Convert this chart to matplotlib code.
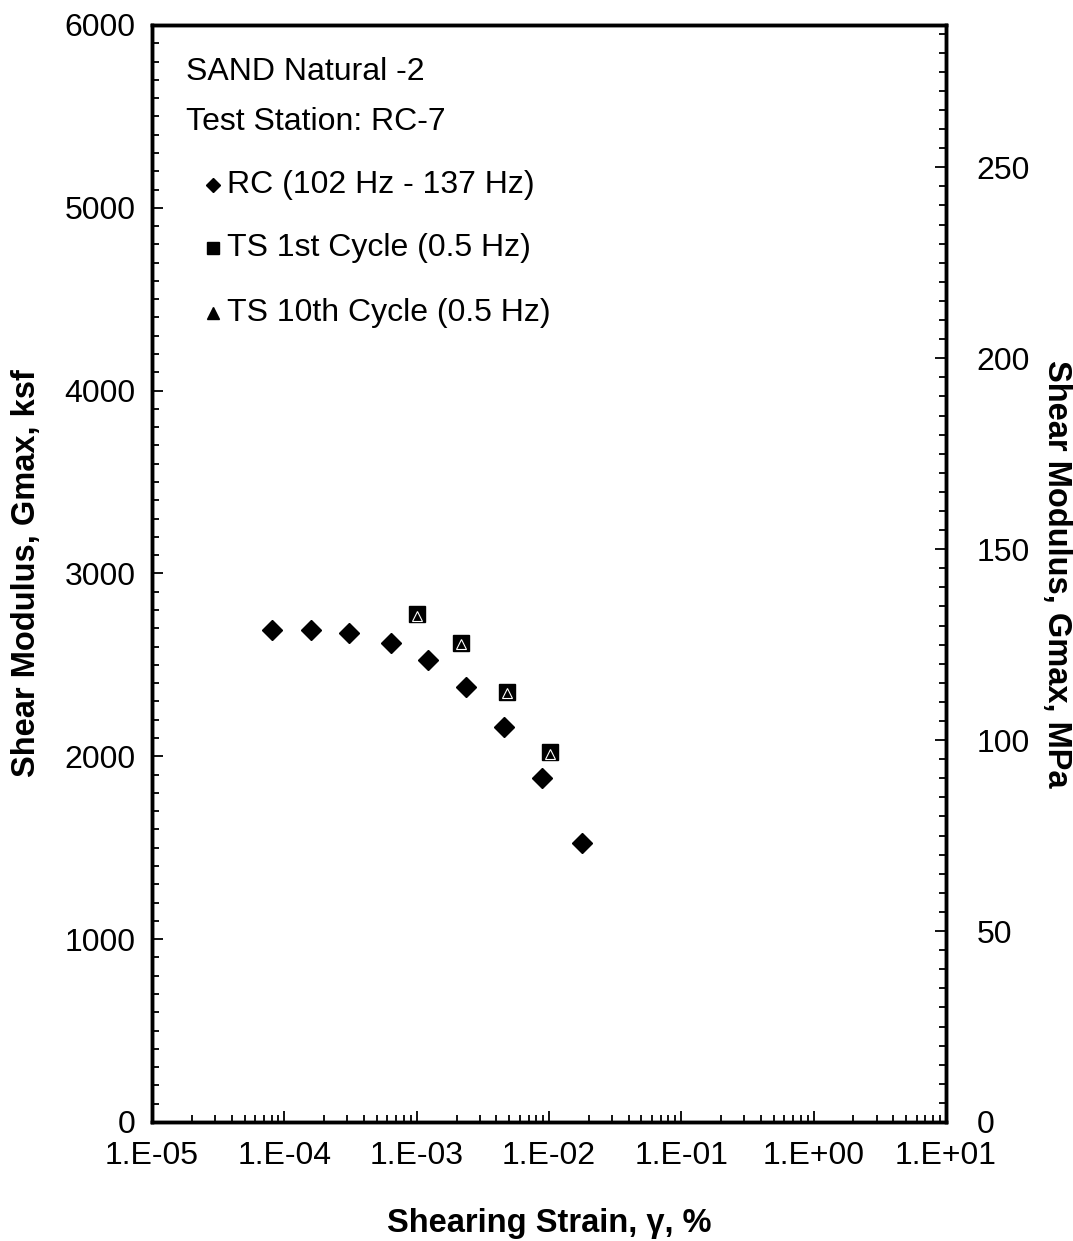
import numpy as np
import matplotlib
matplotlib.use('Agg')
import matplotlib.pyplot as plt
from matplotlib.ticker import LogLocator, MultipleLocator, FixedLocator, NullFormatter

# RC data (102-137 Hz)
rc_strain = [8.0e-5, 1.6e-4, 3.1e-4, 6.4e-4, 1.22e-3, 2.35e-3, 4.6e-3, 8.8e-3, 1.77e-2]
rc_gmax = [2690, 2690, 2675, 2620, 2527, 2381, 2162, 1880, 1524]

# TS 1st cycle (0.5 Hz)
ts1_strain = [1.0e-3, 2.15e-3, 4.8e-3, 1.02e-2]
ts1_gmax = [2778, 2618, 2354, 2022]

# TS 10th cycle (0.5 Hz)
ts10_strain = [1.0e-3, 2.15e-3, 4.8e-3, 1.02e-2]
ts10_gmax = [2770, 2612, 2346, 2015]

xticks = [1e-5, 1e-4, 1e-3, 1e-2, 1e-1, 1e0, 1e1]
xtick_labels = ['1.E-05', '1.E-04', '1.E-03', '1.E-02', '1.E-01', '1.E+00', '1.E+01']

KSF_TO_MPA = 0.04788

plt.rcParams['font.family'] = ['Liberation Sans', 'DejaVu Sans']
FS = 23
LFS = 23.5

fig = plt.figure(figsize=(10.73, 12.41), dpi=100)
ax = fig.add_axes([0.1417, 0.0959, 0.7399, 0.884])

ax.plot(rc_strain, rc_gmax, 'D', color='black', markersize=10, linestyle='none')
ax.plot(ts1_strain, ts1_gmax, 's', color='black', markersize=11, linestyle='none')
ax.plot(ts10_strain, ts10_gmax, '^', color='black', markeredgecolor='white',
        markeredgewidth=0.8, markersize=7, linestyle='none')

ax.set_xscale('log')
ax.set_xlim(1e-5, 1e1)
ax.set_ylim(0, 6000)
ax.xaxis.set_major_locator(FixedLocator(xticks))
ax.set_xticklabels(xtick_labels)
ax.xaxis.set_minor_locator(LogLocator(base=10, subs=np.arange(2, 10)))
ax.xaxis.set_minor_formatter(NullFormatter())
ax.yaxis.set_major_locator(MultipleLocator(1000))
ax.yaxis.set_minor_locator(MultipleLocator(100))

for s in ax.spines.values():
    s.set_linewidth(2.5)
ax.tick_params(which='both', direction='in', labelsize=FS, width=1.3)
ax.tick_params(which='major', length=8, pad=12)
ax.tick_params(which='minor', length=5)
ax.tick_params(axis='x', which='major', pad=14)

ax.set_xlabel('Shearing Strain, γ, %', fontsize=LFS, fontweight='bold', labelpad=26)
ax.set_ylabel('Shear Modulus, Gmax, ksf', fontsize=LFS, fontweight='bold', labelpad=16)

ax2 = ax.twinx()
ax2.set_ylim(0, 6000 * KSF_TO_MPA)
ax2.yaxis.set_major_locator(MultipleLocator(50))
ax2.yaxis.set_minor_locator(MultipleLocator(5))
ax2.tick_params(which='both', direction='in', labelsize=FS, width=1.3)
ax2.tick_params(which='major', length=8, pad=22)
ax2.tick_params(which='minor', length=5)
ax2.set_ylabel('Shear Modulus, Gmax, MPa', fontsize=LFS, fontweight='bold',
               rotation=270, labelpad=30)
for s in ax2.spines.values():
    s.set_linewidth(2.5)

# annotation block
ax.text(0.043, 0.957, 'SAND Natural -2', transform=ax.transAxes, fontsize=FS, va='center')
ax.text(0.043, 0.9116, 'Test Station: RC-7', transform=ax.transAxes, fontsize=FS, va='center')
legend_rows = [('D', 7, 'RC (102 Hz - 137 Hz)', 0.854),
               ('s', 8, 'TS 1st Cycle (0.5 Hz)', 0.797),
               ('^', 8, 'TS 10th Cycle (0.5 Hz)', 0.7375)]
for m, ms, label, yy in legend_rows:
    ax.plot([0.077], [yy], m, color='black', markersize=ms, transform=ax.transAxes, clip_on=False)
    ax.text(0.095, yy, label, transform=ax.transAxes, fontsize=FS, va='center')

fig.savefig('out.png', dpi=100)
